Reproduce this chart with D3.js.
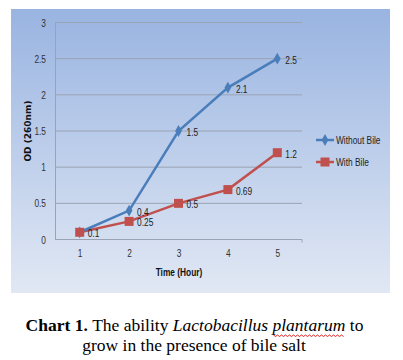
<!DOCTYPE html>
<html><head><meta charset="utf-8">
<script src="https://cdn.jsdelivr.net/npm/d3@7"></script>
<style>
body{margin:0;background:#fff;}
svg{display:block;}
</style></head>
<body>
<svg id="c" width="403" height="360"></svg>
<script>
const categories = ["1","2","3","4","5"];
const withoutBile = [0.1, 0.4, 1.5, 2.1, 2.5];
const withBile = [0.1, 0.25, 0.5, 0.69, 1.2];
const withoutLabels = ["", "0.4", "1.5", "2.1", "2.5"];
const withLabels = ["0.1", "0.25", "0.5", "0.69", "1.2"];
const yTicks = [0, 0.5, 1, 1.5, 2, 2.5, 3];
const seriesNames = ["Without Bile", "With Bile"];

const svg = d3.select("#c");
const F = "'Liberation Sans',Arial,sans-serif";
const K = 0.76;

function condense(sel){
  sel.each(function(){
    const t = d3.select(this);
    const x0 = +t.attr("x") || 0, y0 = +t.attr("y") || 0;
    t.attr("x",0).attr("y",0).attr("transform",`translate(${x0},${y0}) scale(${K},1)`);
  });
}

const defs = svg.append("defs");
const g = defs.append("linearGradient").attr("id","bg").attr("x1",0).attr("y1",0).attr("x2",0).attr("y2",1);
g.append("stop").attr("offset","0%").attr("stop-color","#99b4e1");
g.append("stop").attr("offset","100%").attr("stop-color","#e1e8f4");

svg.append("rect").attr("x",11).attr("y",9).attr("width",379).attr("height",284).attr("fill","url(#bg)");

const x = d3.scalePoint().domain(categories).range([55,302]).padding(0.5);
const y = d3.scaleLinear().domain([0,3]).range([239.5,22.5]);

// gridlines
svg.append("g").selectAll("line").data(yTicks.slice(1)).join("line")
  .attr("x1",55).attr("x2",302).attr("y1",d=>y(d)).attr("y2",d=>y(d))
  .attr("stroke","#9aa3b3").attr("stroke-width",1);

// axes
const yAxis = svg.append("g").attr("transform","translate(55,0)")
  .call(d3.axisLeft(y).tickValues(yTicks).tickSize(0).tickPadding(9).tickFormat(d3.format("")));
yAxis.select(".domain").attr("stroke","#9aa3b3");
yAxis.selectAll("text").attr("font-family",F).attr("font-size",11).attr("fill","#333").call(condense);

const xAxis = svg.append("g").attr("transform","translate(0,239.5)")
  .call(d3.axisBottom(x).tickSize(0).tickPadding(10));
xAxis.select(".domain").attr("stroke","#9aa3b3").attr("d","M55,0H302V3");
xAxis.selectAll("text").attr("font-family",F).attr("font-size",11).attr("fill","#333").call(condense);

svg.append("text").attr("x",179).attr("y",276).attr("text-anchor","middle")
  .attr("font-family",F).attr("font-size",11).attr("font-weight","bold").attr("fill","#111").text("Time (Hour)").call(condense);
svg.append("text").attr("transform","translate(31,131) rotate(-90)").attr("text-anchor","middle")
  .attr("font-family","'DejaVu Sans',sans-serif").attr("font-size",9).attr("font-weight","bold").attr("fill","#111").text("OD (260nm)");

const line = d3.line().x((d,i)=>x(categories[i])).y(d=>y(d));
const blue = "#4a7ebb", red = "#c0504d";

svg.append("path").datum(withBile).attr("d",line).attr("fill","none").attr("stroke",red).attr("stroke-width",2.5);
svg.append("path").datum(withoutBile).attr("d",line).attr("fill","none").attr("stroke",blue).attr("stroke-width",2.5);

const diamond = d3.symbol().type(d3.symbolDiamond).size(40);
svg.append("g").selectAll("path").data(withoutBile).join("path")
  .attr("d",diamond).attr("transform",(d,i)=>`translate(${x(categories[i])},${y(d)})`).attr("fill",blue);
svg.append("g").selectAll("rect").data(withBile).join("rect")
  .attr("x",(d,i)=>x(categories[i])-4.5).attr("y",d=>y(d)-4.5).attr("width",9).attr("height",9).attr("fill",red);

function labels(vals, txt){
  svg.append("g").selectAll("text").data(vals).join("text")
    .attr("x",(d,i)=>x(categories[i])+8).attr("y",d=>y(d)+5)
    .attr("font-family",F).attr("font-size",11).attr("fill","#222")
    .text((d,i)=>txt[i]).call(condense);
}
labels(withoutBile, withoutLabels);
labels(withBile, withLabels);

// legend
const leg = svg.append("g");
[0,1].forEach(k=>{
  const ly = k===0 ? 140 : 162;
  const c = k===0 ? blue : red;
  leg.append("line").attr("x1",316).attr("x2",334).attr("y1",ly).attr("y2",ly).attr("stroke",c).attr("stroke-width",2.5);
  if(k===0) leg.append("path").attr("d",diamond).attr("transform",`translate(325,${ly})`).attr("fill",c);
  else leg.append("rect").attr("x",320.5).attr("y",ly-4.5).attr("width",9).attr("height",9).attr("fill",c);
  leg.append("text").attr("x",336).attr("y",ly+4).attr("font-family",F).attr("font-size",11).attr("fill","#222").text(seriesNames[k]).call(condense);
});

// caption (segments laid out by measured widths)
const SF = "'Liberation Serif','Times New Roman',serif";
const FS = 17.5;
const segs = [
  {t:"Chart 1.", w:"bold", s:"normal"},
  {t:"\u00a0The ability\u00a0", w:"normal", s:"normal"},
  {t:"Lactobacillus\u00a0", w:"normal", s:"italic"},
  {t:"plantarum", w:"normal", s:"italic", sq:true},
  {t:"\u00a0to", w:"normal", s:"normal"}
];
const capG = svg.append("g");
const nodes = segs.map(sg => capG.append("text").attr("y",331).attr("font-family",SF).attr("font-size",FS)
  .attr("font-weight",sg.w).attr("font-style",sg.s).attr("fill","#000").text(sg.t));
const widths = nodes.map(nd => nd.node().getComputedTextLength());
const total = d3.sum(widths);
let cx = 194.5 - total/2;
nodes.forEach((nd,i)=>{
  nd.attr("x",cx);
  if (segs[i].sq) {
    const pts = [];
    for (let px = cx + 1, k = 0; px <= cx + widths[i]; px += 2, k++) pts.push([px, 335 + (k % 2 ? 1.5 : 0)]);
    capG.append("path").attr("d", d3.line()(pts)).attr("fill","none").attr("stroke","#e02020").attr("stroke-width",1);
  }
  cx += widths[i];
});
svg.append("text").attr("x",194).attr("y",351).attr("text-anchor","middle").attr("font-family",SF).attr("font-size",FS).attr("fill","#000")
  .text("grow in the presence of bile salt");
</script>
</body></html>
